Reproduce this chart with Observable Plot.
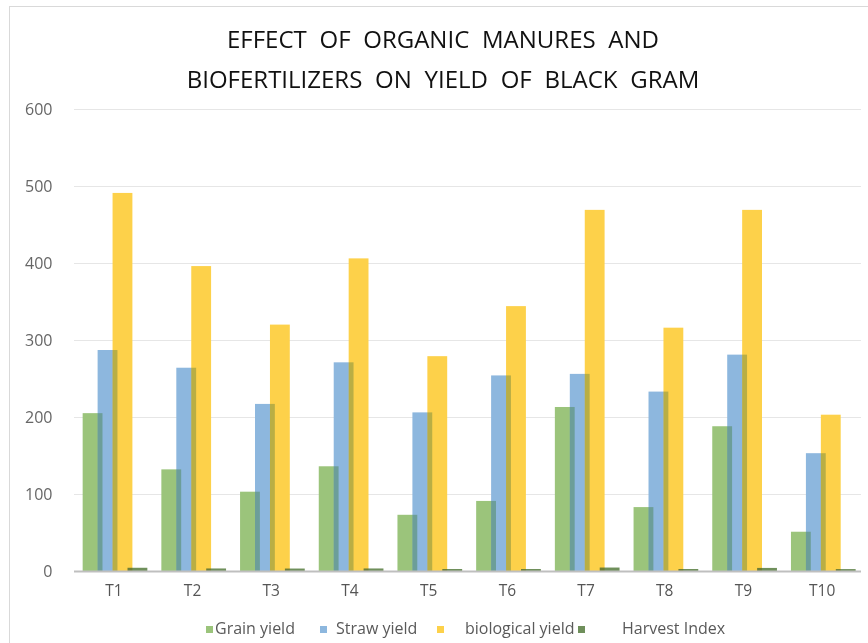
<!DOCTYPE html>
<html>
<head>
<meta charset="utf-8">
<script src="https://cdn.jsdelivr.net/npm/d3@7"></script>
<script src="https://cdn.jsdelivr.net/npm/@observablehq/plot@0.6"></script>
<style>
  html, body { margin: 0; padding: 0; background: #fff; }
  #wrap { position: relative; width: 868px; height: 643px; overflow: hidden; background: #fff; font-family: "Open Sans", sans-serif; }
  #frame { position: absolute; left: 9px; top: 6px; width: 900px; height: 700px; border: 1px solid #d9d9d9; box-sizing: border-box; }
  #chart { position: absolute; left: 0; top: 0; }
  .title { position: absolute; left: 0; width: 886px; text-align: center; font-size: 24px; line-height: 24px; color: #111; word-spacing: 6.5px; white-space: nowrap; }
  .lg-sq { position: absolute; width: 7px; height: 7px; top: 626px; }
  .lg-tx { position: absolute; top: 620px; font-size: 16px; line-height: 16px; color: #595959; white-space: nowrap; }
</style>
</head>
<body>
<div id="wrap">
  <div id="frame"></div>
  <div id="chart"></div>
  <div class="title" style="top:27px">EFFECT OF ORGANIC MANURES AND</div>
  <div class="title" style="top:67px">BIOFERTILIZERS ON YIELD OF BLACK GRAM</div>
  <div id="legend"></div>
</div>
<script>
// ---- data ----
const categories = ["T1", "T2", "T3", "T4", "T5", "T6", "T7", "T8", "T9", "T10"];
const seriesNames = ["Grain yield", "Straw yield", "biological yield", "Harvest Index"];
const grainYield = [205, 132, 103, 136, 73, 91, 213, 83, 188, 51];
const strawYield = [287, 264, 217, 271, 206, 254, 256, 233, 281, 153];
const biologicalYield = [491, 396, 320, 406, 279, 344, 469, 316, 469, 203];
const harvestIndex = [4.2, 3.3, 3.2, 3.3, 2.6, 2.6, 4.5, 2.6, 4.0, 2.5];
const yTicks = [0, 100, 200, 300, 400, 500, 600];

const colors = ["#9bc47b", "#8db7de", "#fdd14a", "#6f8f5b"];
const seriesValues = [grainYield, strawYield, biologicalYield, harvestIndex];

// layout of bars within one category (in category units)
const OFF = 0.11, STEP = 0.19, W = 0.252;

const bars = [];
seriesValues.forEach((vals, s) => {
  vals.forEach((v, c) => {
    bars.push({cat: c, s, value: v, x1: c + OFF + s * STEP, x2: c + OFF + s * STEP + W});
  });
});
const overlaps = [];
for (let s = 1; s < seriesValues.length; s++) {
  categories.forEach((_, c) => {
    overlaps.push({
      s: s - 1,
      x1: c + OFF + s * STEP,
      x2: c + OFF + (s - 1) * STEP + W,
      value: Math.min(seriesValues[s - 1][c], seriesValues[s][c])
    });
  });
}

const chart = Plot.plot({
  width: 868,
  height: 643,
  marginTop: 109,
  marginBottom: 72,
  marginLeft: 74,
  marginRight: 7,
  style: {fontFamily: "Open Sans, sans-serif", fontSize: "16px", color: "#666", background: "transparent"},
  x: {type: "linear", domain: [0, categories.length]},
  y: {domain: [0, 600]},
  marks: [
    Plot.gridY(yTicks, {stroke: "#e6e6e6", strokeOpacity: 1}),
    Plot.rectY(bars, {x1: "x1", x2: "x2", y1: 0, y2: "value", fill: d => colors[d.s]}),
    Plot.rectY(overlaps, {x1: "x1", x2: "x2", y1: 0, y2: "value", fill: d => colors[d.s], fillOpacity: 0.6, mixBlendMode: "multiply"}),
    Plot.ruleY([0], {stroke: "#bfbfbf", strokeWidth: 2}),
    Plot.axisY(yTicks, {tickSize: 0, tickPadding: 22, label: null, fill: "#666", fontSize: 16}),
    Plot.axisX(categories.map((_, i) => i + 0.5), {tickSize: 0, tickPadding: 13, label: null, tickFormat: d => categories[Math.round(d - 0.5)], fill: "#555", fontSize: 15.5})
  ]
});
document.getElementById("chart").appendChild(chart);

// ---- legend ----
const legendPos = [[206, 215], [320, 336], [437, 465], [578, 622]];
const legend = document.getElementById("legend");
seriesNames.forEach((name, i) => {
  const sq = document.createElement("div");
  sq.className = "lg-sq";
  sq.style.left = legendPos[i][0] + "px";
  sq.style.background = colors[i];
  const tx = document.createElement("div");
  tx.className = "lg-tx";
  tx.style.left = legendPos[i][1] + "px";
  tx.textContent = name;
  legend.appendChild(tx);
  legend.appendChild(sq);
});
</script>
</body>
</html>
